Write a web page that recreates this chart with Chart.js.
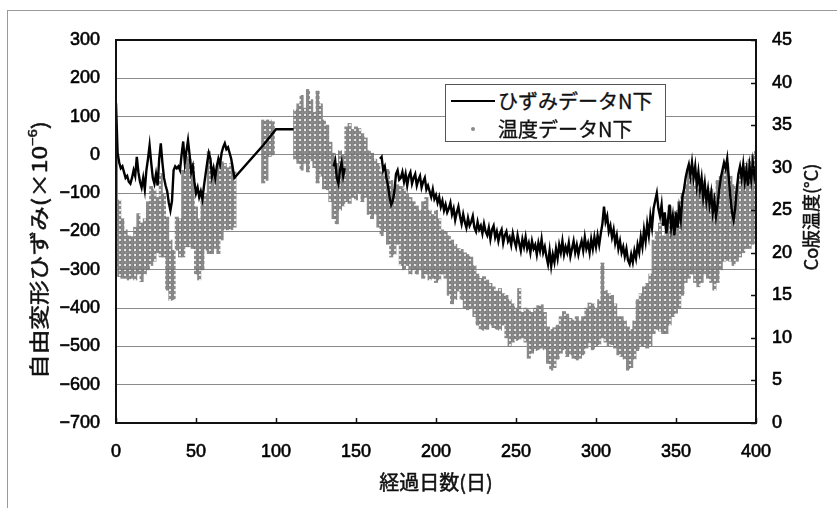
<!DOCTYPE html>
<html lang="ja">
<head>
<meta charset="utf-8">
<title>自由変形ひずみとCo版温度</title>
<script src="https://cdn.jsdelivr.net/npm/chart.js@4/dist/chart.umd.min.js"></script>
<style>
  html, body { margin: 0; padding: 0; background: #fff; }
  #wrap { position: relative; width: 837px; height: 508px; overflow: hidden; }
  #frame { position: absolute; left: 7px; top: 10px; right: -2px; bottom: -2px;
           border-top: 1px solid #9a9a9a; border-left: 1px solid #9a9a9a; }
  #chart { position: absolute; left: 0; top: 0; }
  #legend { position: absolute; left: 445px; top: 84px; width: 221px; height: 58px;
            box-sizing: border-box; border: 1px solid #555; background: #fff;
            font-family: "Noto Sans CJK JP", sans-serif; font-size: 20px; color: #111;
            -webkit-text-stroke: 0.35px #111; }
  #legend .row { position: absolute; left: 0; height: 22px; width: 100%; }
  #legend .txt { position: absolute; left: 52px; top: 0; line-height: 22px; white-space: nowrap; }
  #legend .line { position: absolute; left: 5px; top: 10px; width: 44px; height: 2px; background: #000; }
  #legend .dot { position: absolute; left: 25px; top: 9px; width: 4px; height: 4px;
                 border-radius: 50%; background: #8a8a8a; }
</style>
</head>
<body>
<div id="wrap">
  <div id="frame"></div>
  <canvas id="chart" width="837" height="508"></canvas>
  <div id="legend"></div>
</div>
<script>
// ---- series labels and axis tick values ----
const strainLabel = 'ひずみデータN下';
const tempLabel = '温度データN下';
const dayTicks = [0, 50, 100, 150, 200, 250, 300, 350, 400];
const strainTicks = [300, 200, 100, 0, -100, -200, -300, -400, -500, -600, -700];
const tempTicks = [0, 5, 10, 15, 20, 25, 30, 35, 40, 45];

// free strain (x10^-6), one value per day from day 0; null = no record that day
const strain = [
  135, 5, -20, -35, -30, -45, -60, -55, -70, -75,
  -60, -40, -55, -5, -45, -70, -85, -60, -90, -40,
  -10, 25, -20, -60, -75, -50, -80, -10, 30, -20,
  -60, -80, -95, -125, -145, -120, -40, -30, -35, -30,
  -40, 0, 35, -20, 10, 38, 0, -45, -30, -70,
  -100, -85, -110, -95, -115, -80, -50, -20, 5, -10,
  -55, -35, -60, -30, -10, -25, 5, 20, 30, 15,
  20, 5, -10, -35, -60, null, null, null, null, null,
  null, null, null, null, null, null, null, null, null, null,
  null, null, 25, null, null, null, null, null, null, null,
  67, null, null, null, null, null, null, null, null, null,
  null, 67, null, null, null, null, null, null, null, null,
  null, null, null, null, null, null, null, null, null, null,
  null, null, null, null, null, null, -30, -15, -60, -75,
  -40, -20, -55, -35, null, null, null, null, null, null,
  null, null, null, null, null, null, null, null, null, null,
  null, null, null, null, null, -10, -5, -40, -30, -60,
  -80, -110, -130, -120, -95, -50, -40, -65, -60, -45,
  -70, -50, -80, -55, -45, -75, -60, -50, -80, -65,
  -55, -85, -70, -60, -90, -80, -95, -110, -90, -115,
  -105, -125, -110, -135, -120, -145, -130, -150, -140, -125,
  -155, -140, -170, -150, -135, -160, -180, -155, -175, -190,
  -165, -185, -175, -160, -190, -200, -175, -195, -185, -205,
  -180, -200, -210, -190, -220, -195, -185, -215, -200, -225,
  -205, -195, -230, -210, -200, -225, -215, -235, -205, -225,
  -240, -210, -230, -250, -220, -240, -215, -245, -230, -255,
  -225, -245, -235, -260, -230, -250, -220, -255, -240, -265,
  -285, -250, -290, -260, -280, -245, -270, -235, -255, -225,
  -260, -240, -255, -230, -265, -245, -225, -255, -235, -260,
  -240, -225, -250, -215, -245, -230, -255, -220, -245, -215,
  -240, -210, -235, -205, -180, -135, -175, -160, -200, -185,
  -215, -195, -230, -210, -245, -225, -255, -240, -265, -245,
  -275, -285, -260, -280, -250, -270, -235, -255, -215, -240,
  -195, -225, -180, -210, -160, -190, -140, -120, -100, -140,
  -160, -130, -185, -150, -205, -170, -130, -190, -160, -210,
  -150, -190, -140, -170, -110, -90, -60, -40, -25, -55,
  -20, -60, -30, -80, -45, -90, -60, -110, -75, -120,
  -90, -130, -100, -150, -120, -160, -130, -90, -60, -40,
  -20, -35, -10, -60, -110, -150, -170, -140, -90, -50,
  -30, -60, -25, -70, -40, -80, -30, -65, -20, -55,
  -30
];

// slab temperature (°C): daily low and high, one pair every 2 days from day 0
const tempLow = [
  18.4, 17.2, 17.0, 17.0, 16.8, 17.0, 16.8, 17.5, 16.6, 17.5,
  18.0, 18.5, 19.0, 20.0, 19.5, 19.5, 15.6, 14.4, 14.5, 20.3,
  19.5, 19.5, 20.7, 20.7, 20.5, 17.5, 16.8, 18.0, 20.3, 19.9,
  19.9, 20.5, 19.9, 21.5, 22.7, 22.7, 22.7, 23.0, null, null,
  null, null, null, null, null, null, 28.2, 28.5, 31.3, 31.5,
  null, null, null, null, null, null, 31.0, 30.5, 29.7, 30.5,
  29.5, 30.8, 30.0, 28.2, 29.0, 27.5, 27.4, 26.0, 24.0, 23.4,
  25.0, 25.5, 26.0, 25.8, 26.5, 26.2, 27.0, 26.0, 26.5, 24.5,
  24.0, 24.5, 23.0, 22.0, 22.5, 21.0, 19.5, 19.8, 21.0, 18.5,
  18.0, 18.5, 17.5, 18.0, 17.5, 18.0, 17.0, 17.5, 16.8, 17.0,
  16.5, 16.8, 17.5, 17.0, 15.0, 14.0, 14.5, 15.5, 14.5, 13.5,
  13.3, 13.5, 12.5, 11.5, 11.0, 10.9, 11.0, 11.5, 11.2, 11.0,
  10.9, 11.5, 10.0, 9.0, 9.5, 9.7, 9.8, 10.0, 9.5, 7.6,
  8.2, 8.5, 8.6, 8.8, 8.6, 7.0, 6.2, 6.5, 7.5, 8.2,
  8.6, 7.8, 8.0, 7.6, 7.4, 7.6, 8.0, 8.8, 9.4, 8.6,
  9.0, 9.2, 10.0, 9.5, 9.0, 9.2, 8.8, 8.0, 7.8, 7.5,
  6.2, 6.5, 7.5, 8.5, 9.0, 9.0, 8.8, 9.0, 10.5, 11.0,
  10.8, 10.5, 10.5, 11.5, 12.5, 12.9, 13.5, 15.0, 16.5, 17.0,
  17.5, 16.5, 16.0, 16.5, 17.5, 17.0, 16.5, 15.6, 16.5, 18.0,
  19.0, 19.1, 19.0, 18.5, 19.0, 19.5, 20.0, 20.5, 20.5, 21.0,
  21.5
];
const tempHigh = [
  32.3, 26.2, 24.0, 22.7, 22.0, 21.9, 23.0, 24.6, 23.5, 24.0,
  26.0, 27.8, 27.4, 26.5, 29.3, 27.0, 24.2, 21.5, 20.3, 24.2,
  24.0, 29.7, 31.3, 31.0, 30.5, 25.4, 24.0, 26.6, 27.0, 31.9,
  30.1, 29.5, 30.5, 30.7, 30.5, 30.0, 30.5, 29.5, null, null,
  null, null, null, null, null, null, 35.6, 35.6, 35.6, 35.4,
  null, null, null, null, null, null, 36.8, 37.5, 38.5, 37.0,
  39.2, 38.0, 36.5, 39.0, 37.5, 35.6, 35.0, 33.0, 31.7, 30.5,
  32.0, 31.5, 34.8, 35.2, 34.5, 34.8, 34.6, 34.0, 33.5, 32.0,
  31.7, 31.0, 30.5, 29.5, 29.0, 29.8, 28.5, 27.5, 28.0, 27.8,
  27.5, 27.0, 26.5, 26.0, 25.5, 25.0, 26.0, 26.5, 25.0, 24.5,
  25.0, 24.0, 22.7, 22.5, 22.0, 21.5, 21.0, 20.5, 20.4, 20.0,
  19.8, 19.5, 18.5, 17.5, 17.0, 17.2, 16.8, 16.4, 16.0, 15.5,
  15.8, 15.2, 15.0, 14.5, 14.0, 13.5, 15.8, 13.0, 13.5, 13.3,
  13.0, 13.5, 13.8, 13.9, 13.0, 11.3, 11.0, 11.2, 11.5, 12.5,
  13.1, 12.8, 12.3, 12.1, 12.5, 12.0, 12.5, 13.5, 14.1, 14.0,
  13.5, 14.5, 18.8, 15.6, 15.2, 15.0, 14.0, 12.5, 12.5, 12.0,
  11.3, 11.0, 12.0, 14.5, 15.2, 16.0, 16.4, 17.5, 21.5, 22.5,
  23.5, 22.0, 24.0, 25.5, 24.5, 25.0, 26.0, 27.0, 28.0, 29.5,
  28.8, 28.0, 27.5, 28.5, 27.0, 26.5, 27.5, 27.0, 28.5, 29.0,
  30.0, 30.5, 29.0, 28.0, 27.5, 29.0, 30.0, 30.5, 31.0, 31.5,
  32.0
];

// ---- build chart data from the arrays ----
const strainPoints = strain
  .map((v, day) => ({ x: day, y: v }))
  .filter(p => p.y !== null);

const tempBars = tempLow
  .map((lo, i) => ({ x: i * 2, y: [lo, tempHigh[i]] }))
  .filter(p => p.y[0] !== null && p.y[1] !== null);

// dotted fill used for the temperature readings
function dotPattern() {
  const c = document.createElement('canvas');
  c.width = 5; c.height = 5;
  const g = c.getContext('2d');
  g.fillStyle = '#8a8a8a';
  g.beginPath();
  g.arc(2.5, 2.5, 2.2, 0, Math.PI * 2);
  g.fill();
  g.strokeStyle = '#666';
  g.lineWidth = 0.7;
  g.stroke();
  return g.createPattern(c, 'repeat');
}

const ctx = document.getElementById('chart').getContext('2d');
const fill = dotPattern();

const tickFont = { family: '"Liberation Sans", Arial, sans-serif', size: 18 };
const titleFamily = '"Noto Sans CJK JP", sans-serif';
const minus = v => (v < 0 ? '\u2212' + Math.abs(v) : String(v));
const tickStyle = { font: tickFont, color: '#000', textStrokeColor: '#000', textStrokeWidth: 0.6 };

// draws a run of text pieces centred on (cx, cy); len stretches the run along its direction
function drawRuns(c, runs, cx, cy, rot, len) {
  c.save();
  c.translate(cx, cy);
  c.rotate(rot);
  let total = 0;
  runs.forEach(r => { c.font = r.font; r.w = c.measureText(r.text).width; total += r.w; });
  if (len) c.scale(len / total, 1);
  let x = -total / 2;
  c.textAlign = 'left';
  c.textBaseline = 'middle';
  c.fillStyle = '#111';
  c.strokeStyle = '#111';
  c.lineWidth = 0.5;
  runs.forEach(r => {
    c.font = r.font;
    c.fillText(r.text, x, r.dy || 0);
    c.strokeText(r.text, x, r.dy || 0);
    x += r.w;
  });
  c.restore();
}

// plot frame, inward tick marks and axis titles
const decor = {
  id: 'decor',
  afterDatasetsDraw(chart) {
    const c = chart.ctx;
    const a = chart.chartArea;
    c.save();
    c.strokeStyle = '#111';
    c.lineWidth = 1.5;
    const xs = chart.scales.x;
    dayTicks.forEach(v => {
      const px = Math.round(xs.getPixelForValue(v)) + 0.5;
      c.beginPath(); c.moveTo(px, a.bottom); c.lineTo(px, a.bottom - 5); c.stroke();
    });
    const ys = chart.scales.y2;
    tempTicks.forEach(v => {
      const py = Math.round(ys.getPixelForValue(v)) + 0.5;
      c.beginPath(); c.moveTo(a.right, py); c.lineTo(a.right - 5, py); c.stroke();
    });
    c.lineWidth = 2;
    c.strokeRect(a.left, a.top, a.right - a.left, a.bottom - a.top);
    c.restore();
  },
  afterDraw(chart) {
    const c = chart.ctx;
    const f20 = '20px ' + titleFamily;
    drawRuns(c, [{ text: '経過日数(日)', font: f20 }], 436, 482, 0);
    drawRuns(c, [
      { text: '自由変形ひずみ(×10', font: f20 },
      { text: '−6', font: '12px ' + titleFamily, dy: -7 },
      { text: ')', font: f20 }
    ], 39, 250, -Math.PI / 2, 258);
    drawRuns(c, [{ text: 'Co版温度(°C)', font: '18px ' + titleFamily }], 811, 217, -Math.PI / 2);
  }
};

new Chart(ctx, {
  type: 'line',
  data: {
    datasets: [
      {
        type: 'line',
        label: strainLabel,
        data: strainPoints,
        xAxisID: 'x',
        yAxisID: 'y',
        borderColor: '#000',
        borderWidth: 2.4,
        pointRadius: 0,
        tension: 0,
        spanGaps: 20
      },
      {
        type: 'bar',
        label: tempLabel,
        data: tempBars,
        xAxisID: 'x',
        yAxisID: 'y2',
        backgroundColor: fill,
        borderWidth: 0,
        barThickness: 3.4,
        grouped: false
      }
    ]
  },
  options: {
    responsive: false,
    animation: false,
    devicePixelRatio: 1,
    layout: { padding: { top: 40, left: 0, right: 0, bottom: 0 } },
    plugins: { legend: { display: false }, tooltip: { enabled: false } },
    scales: {
      x: {
        type: 'linear',
        offset: false,
        min: 0, max: 400,
        afterBuildTicks: s => { s.ticks = dayTicks.map(v => ({ value: v })); },
        afterFit: s => { s.height = 85; },
        grid: { display: false, drawTicks: false, offset: false },
        border: { display: false },
        ticks: Object.assign({ padding: 18, maxRotation: 0, autoSkip: false }, tickStyle)
      },
      y: {
        position: 'left',
        min: -700, max: 300,
        afterBuildTicks: s => { s.ticks = strainTicks.map(v => ({ value: v })); },
        afterFit: s => { s.width = 116; },
        grid: { color: '#8a8a8a', lineWidth: 1, drawTicks: false },
        border: { display: false },
        ticks: Object.assign({ padding: 16, callback: v => minus(v) }, tickStyle)
      },
      y2: {
        position: 'right',
        min: 0, max: 45,
        afterBuildTicks: s => { s.ticks = tempTicks.map(v => ({ value: v })); },
        afterFit: s => { s.width = 81; },
        grid: { display: false, drawTicks: false },
        border: { display: false },
        ticks: Object.assign({ padding: 16, callback: v => minus(v) }, tickStyle)
      }
    }
  },
  plugins: [decor]
});

// legend box inside the plot
const legend = document.getElementById('legend');
legend.innerHTML =
  '<div class="row" style="top:5px"><div class="line"></div><div class="txt"></div></div>' +
  '<div class="row" style="top:33px"><div class="dot"></div><div class="txt"></div></div>';
const txts = legend.querySelectorAll('.txt');
txts[0].textContent = strainLabel;
txts[1].textContent = tempLabel;
</script>
</body>
</html>
